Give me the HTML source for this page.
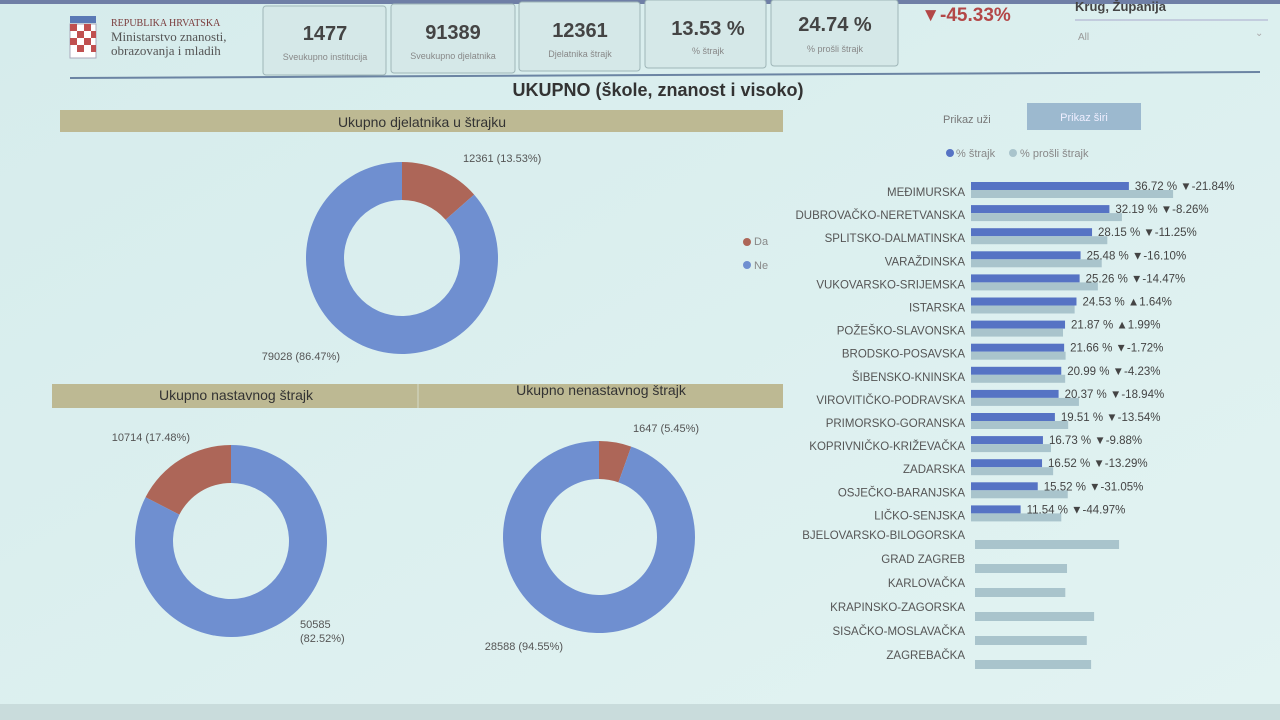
<!DOCTYPE html>
<html><head><meta charset="utf-8">
<style>
body{margin:0;width:1280px;height:720px;overflow:hidden;background:#dcefef;font-family:"Liberation Sans",sans-serif;}
svg{display:block}
</style></head>
<body>
<svg width="1280" height="720" viewBox="0 0 1280 720">
<defs><linearGradient id="bg" x1="0" y1="0" x2="1" y2="1"><stop offset="0" stop-color="#d6ecec"/><stop offset="1" stop-color="#e2f3f2"/></linearGradient></defs>
<rect width="1280" height="720" fill="url(#bg)"/>
<rect x="0" y="0" width="1280" height="4" fill="#6f7fa6"/>
<rect x="0" y="704" width="1280" height="16" fill="#c9dcdc"/>
<g>
<rect x="70" y="24" width="26" height="34" fill="#fff" stroke="#aab" />
<g fill="#c05050"><rect x="70" y="24" width="7" height="7"/><rect x="84" y="24" width="7" height="7"/><rect x="77" y="31" width="7" height="7"/><rect x="91" y="31" width="5" height="7"/><rect x="70" y="38" width="7" height="7"/><rect x="84" y="38" width="7" height="7"/><rect x="77" y="45" width="7" height="7"/><rect x="91" y="45" width="5" height="7"/></g>
<rect x="70" y="16" width="26" height="7" fill="#5a79b5"/>
<text x="111" y="26" font-family="Liberation Serif,serif" font-size="10" fill="#7a3b3b">REPUBLIKA HRVATSKA</text>
<text x="111" y="41" font-family="Liberation Serif,serif" font-size="13" fill="#555">Ministarstvo znanosti,</text>
<text x="111" y="55" font-family="Liberation Serif,serif" font-size="13" fill="#555">obrazovanja i mladih</text>
</g>
<line x1="70" y1="78" x2="1260" y2="72" stroke="#6b84a3" stroke-width="2"/>
<g font-weight="bold" text-anchor="middle">
<rect x="263" y="6" width="123" height="69" rx="3" fill="#d5e8e8" stroke="#9fb6b8"/>
<text x="325" y="40" font-size="20" fill="#444">1477</text><text x="325" y="60" font-size="9" font-weight="normal" fill="#888">Sveukupno institucija</text>
<rect x="391" y="4" width="124" height="69" rx="3" fill="#d5e8e8" stroke="#9fb6b8"/>
<text x="453" y="39" font-size="20" fill="#444">91389</text><text x="453" y="59" font-size="9" font-weight="normal" fill="#888">Sveukupno djelatnika</text>
<rect x="519" y="2" width="121" height="69" rx="3" fill="#d5e8e8" stroke="#9fb6b8"/>
<text x="580" y="37" font-size="20" fill="#444">12361</text><text x="580" y="57" font-size="9" font-weight="normal" fill="#888">Djelatnika štrajk</text>
<rect x="645" y="0" width="121" height="68" rx="3" fill="#d5e8e8" stroke="#9fb6b8"/>
<text x="708" y="35" font-size="20" fill="#444">13.53 %</text><text x="708" y="54" font-size="9" font-weight="normal" fill="#888">% štrajk</text>
<rect x="771" y="0" width="127" height="66" rx="3" fill="#d5e8e8" stroke="#9fb6b8"/>
<text x="835" y="31" font-size="20" fill="#444">24.74 %</text><text x="835" y="52" font-size="9" font-weight="normal" fill="#888">% prošli štrajk</text>
<text x="966" y="21" font-size="19" fill="#b34747">▼-45.33%</text>
</g>
<g>
<text x="1075" y="11" font-size="13" font-weight="bold" fill="#444">Krug, Županija</text>
<line x1="1075" y1="20" x2="1268" y2="20" stroke="#aac"/>
<text x="1078" y="40" font-size="10" fill="#999">All</text>
<text x="1255" y="36" font-size="10" fill="#aaa">⌄</text>
</g>
<text x="658" y="96" text-anchor="middle" font-size="18" font-weight="bold" fill="#333">UKUPNO (škole, znanost i visoko)</text>
<rect x="60" y="110" width="723" height="22" fill="#bdb993"/>
<text x="422" y="127" text-anchor="middle" font-size="14" fill="#333">Ukupno djelatnika u štrajku</text>
<rect x="52" y="384" width="731" height="24" fill="#bdb993"/>
<line x1="418" y1="384" x2="418" y2="408" stroke="#d5dcc8"/>
<text x="236" y="400" text-anchor="middle" font-size="14" fill="#333">Ukupno nastavnog štrajk</text>
<text x="601" y="395" text-anchor="middle" font-size="14" fill="#333">Ukupno nenastavnog štrajk</text>
<g font-size="11" fill="#888">
<circle cx="747" cy="242" r="4" fill="#ad6658"/><text x="754" y="245">Da</text>
<circle cx="747" cy="265" r="4" fill="#6f8fd0"/><text x="754" y="269">Ne</text>
</g>
<g id="donuts"></g>
<text x="943" y="123" font-size="11" fill="#777">Prikaz uži</text>
<rect x="1027" y="103" width="114" height="27" fill="#9cb9cf"/>
<text x="1084" y="121" text-anchor="middle" font-size="11" fill="#eef">Prikaz širi</text>
<g font-size="11" fill="#888">
<circle cx="950" cy="153" r="4" fill="#5673c4"/><text x="956" y="157">% štrajk</text>
<circle cx="1013" cy="153" r="4" fill="#a9c4cc"/><text x="1020" y="157">% prošli štrajk</text>
</g>
<g id="bars"></g>
</svg>
<script>
const donutCats=["Da","Ne"];
const donutTotal=[12361,79028];
const donutNast=[10714,50585];
const donutNenast=[1647,28588];

const counties=["MEĐIMURSKA","DUBROVAČKO-NERETVANSKA","SPLITSKO-DALMATINSKA","VARAŽDINSKA","VUKOVARSKO-SRIJEMSKA","ISTARSKA","POŽEŠKO-SLAVONSKA","BRODSKO-POSAVSKA","ŠIBENSKO-KNINSKA","VIROVITIČKO-PODRAVSKA","PRIMORSKO-GORANSKA","KOPRIVNIČKO-KRIŽEVAČKA","ZADARSKA","OSJEČKO-BARANJSKA","LIČKO-SENJSKA","BJELOVARSKO-BILOGORSKA","GRAD ZAGREB","KARLOVAČKA","KRAPINSKO-ZAGORSKA","SISAČKO-MOSLAVAČKA","ZAGREBAČKA"];
const strikePct=[36.72,32.19,28.15,25.48,25.26,24.53,21.87,21.66,20.99,20.37,19.51,16.73,16.52,15.52,11.54,null,null,null,null,null,null];
const prevPct=[47.0,35.1,31.7,30.4,29.5,24.1,21.4,22.0,21.9,25.1,22.6,18.6,19.1,22.5,21.0,33.5,21.4,21.0,27.7,26.0,27.0];
const changePct=[-21.84,-8.26,-11.25,-16.10,-14.47,1.64,1.99,-1.72,-4.23,-18.94,-13.54,-9.88,-13.29,-31.05,-44.97,null,null,null,null,null,null];

const NS="http://www.w3.org/2000/svg";
function mk(tag,attrs,parent){const e=document.createElementNS(NS,tag);for(const k in attrs)e.setAttribute(k,attrs[k]);parent.appendChild(e);return e;}
const colors=["#ad6658","#6f8fd0"];
function donut(cx,cy,vals,dir,labels){
  const g=document.getElementById('donuts');
  const R=96,r=58,tot=vals[0]+vals[1];
  let a0=0;
  vals.forEach((v,i)=>{
    const a1=a0+v/tot*2*Math.PI;
    const s0=dir*a0,s1=dir*a1;
    const p=(rad,a)=>[cx+rad*Math.sin(a),cy-rad*Math.cos(a)];
    const large=(a1-a0)>Math.PI?1:0, sw=dir>0?1:0;
    const [x0,y0]=p(R,s0),[x1,y1]=p(R,s1),[x2,y2]=p(r,s1),[x3,y3]=p(r,s0);
    const path=mk('path',{d:`M${x0},${y0}A${R},${R} 0 ${large} ${sw} ${x1},${y1}L${x2},${y2}A${r},${r} 0 ${large} ${1-sw} ${x3},${y3}Z`,fill:colors[i]},g);
    
    
    a0=a1;
  });
  labels.forEach((L,i)=>{
    const pct=(vals[i]/tot*100).toFixed(2);
    const t=mk('text',{x:L[0],y:L[1],'font-size':11,fill:'#555','text-anchor':L[2]},g);
    t.textContent=L[3]?vals[i]:vals[i]+' ('+pct+'%)';
    
    
    if(L[3]){const t2=mk('text',{x:L[0],y:L[1]+14,'font-size':11,fill:'#555'},g);t2.textContent='('+pct+'%)';}
  });
}
donut(402,258,donutTotal,1,[[463,162,'start'],[340,360,'end']]);
donut(231,541,donutNast,-1,[[190,441,'end'],[300,628,'start',1]]);
donut(599,537,donutNenast,1,[[633,432,'start'],[563,650,'end']]);

const bg=document.getElementById('bars');
const x0=971, pxPer=4.3;
const xs=v=>v*pxPer;
counties.forEach((c,i)=>{
  const y=i<15?186+i*23.1:542+(i-15)*24;
  const ly=i<15?y+10:y-3;
  const t=mk('text',{x:965,y:ly,'text-anchor':'end','font-size':11.5,fill:'#555'},bg);
  t.textContent=c;
  
  
  if(strikePct[i]!=null){
    const b=mk('rect',{x:x0,y:y-4,width:xs(strikePct[i]),height:8,fill:'#5673c4'},bg);
    
    
    const p=mk('rect',{x:x0,y:y+4,width:xs(prevPct[i]),height:8,fill:'#a9c4cc'},bg);
    
    
    const lab=mk('text',{x:x0+xs(strikePct[i])+6,y:y+4,'font-size':11.5,fill:'#444'},bg);
    const ch=changePct[i];
    lab.textContent=strikePct[i].toFixed(2)+' % '+(ch<0?'▼':'▲')+(ch<0?'-':'')+Math.abs(ch).toFixed(2)+'%';
    
    
  } else {
    const p=mk('rect',{x:x0+4,y:y-2,width:xs(prevPct[i]),height:9,fill:'#a9c4cc'},bg);
    
    
  }
});
</script>
</body></html>
